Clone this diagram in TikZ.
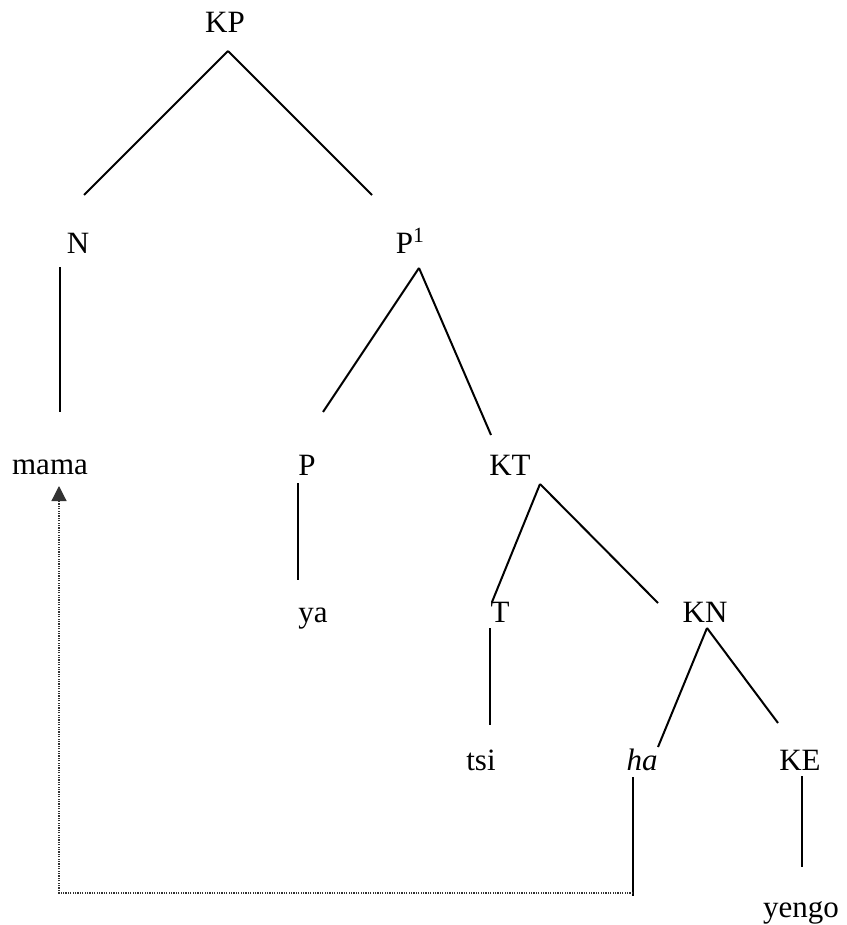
\documentclass[tikz,border=0pt]{standalone}
\usepackage{fontspec}
\setmainfont{Liberation Serif}
\usetikzlibrary{arrows.meta}

\begin{document}
\begin{tikzpicture}[x=0.5pt, y=-0.5pt,
  every node/.style={font=\fontsize{15.5}{18}\selectfont, inner sep=0pt, anchor=base},
  branch/.style={line width=1pt},
  trace/.style={line width=0.6pt, dash pattern=on 0.6pt off 0.6pt, black!80},
  >={Triangle[width=7.5pt,length=7.5pt]}]
  \useasboundingbox (0,0) rectangle (846,925);
  % labels, placed at their baselines
  \node (kp) at (225,33) {KP};
  \node (n) at (78,253) {N};
  \node (p1) at (410.5,253) {P\textsuperscript{1}};
  \node (mama) at (50,474) {mama};
  \node (p) at (307,475) {P};
  \node (kt) at (510,475) {KT};
  \node (ya) at (313,622) {ya};
  \node (t) at (500,622) {T};
  \node (kn) at (705,622) {KN};
  \node (tsi) at (481,770) {tsi};
  \node (ha) at (642,770) {\textit{ha}};
  \node (ke) at (800,770) {KE};
  \node (yengo) at (801,917) {yengo};
  % branches
  \draw[branch] ([shift={(3,18)}]kp.base) -- ([shift={(6,-58)}]n.base);
  \draw[branch] ([shift={(3,18)}]kp.base) -- ([shift={(-38.5,-58)}]p1.base);
  \draw[branch] ([shift={(-18,14)}]n.base) -- ([shift={(10,-62)}]mama.base);
  \draw[branch] ([shift={(8.5,15)}]p1.base) -- ([shift={(16,-63)}]p.base);
  \draw[branch] ([shift={(8.5,15)}]p1.base) -- ([shift={(-19,-40)}]kt.base);
  \draw[branch] ([shift={(-9,8)}]p.base) -- ([shift={(-15,-42)}]ya.base);
  \draw[branch] ([shift={(30,9)}]kt.base) -- ([shift={(-8,-20)}]t.base);
  \draw[branch] ([shift={(30,9)}]kt.base) -- ([shift={(-47,-19)}]kn.base);
  \draw[branch] ([shift={(-10,6)}]t.base) -- ([shift={(9,-45)}]tsi.base);
  \draw[branch] ([shift={(2,6)}]kn.base) -- ([shift={(16,-23)}]ha.base);
  \draw[branch] ([shift={(2,6)}]kn.base) -- ([shift={(-22,-47)}]ke.base);
  \draw[branch] ([shift={(2,6)}]ke.base) -- ([shift={(1,-50)}]yengo.base);
  % movement of ha back to mama
  \coordinate (hook) at ([shift={(-9,123)}]ha.base);
  \draw[branch] ([shift={(-9,7)}]ha.base) -- ([shift={(0,3)}]hook);
  \draw[trace,->] (hook) -| ([shift={(9,12)}]mama.base);
\end{tikzpicture}
\end{document}
